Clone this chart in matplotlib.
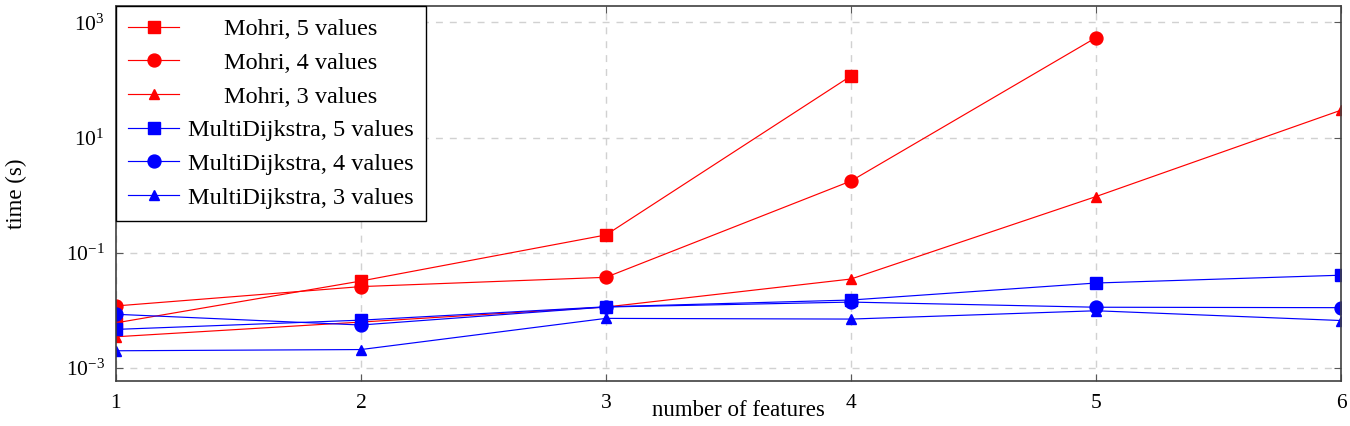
import matplotlib.pyplot as plt
from matplotlib.ticker import FixedLocator, NullLocator

plt.rcParams['font.family'] = ['Liberation Serif', 'DejaVu Serif']
plt.rcParams['mathtext.fontset'] = 'custom'
plt.rcParams['mathtext.rm'] = 'Liberation Serif'
plt.rcParams['mathtext.it'] = 'Liberation Serif:italic'

features = [1, 2, 3, 4, 5, 6]

mohri_5 = [0.0061, 0.0325, 0.205, 118]
mohri_4 = [0.012, 0.026, 0.0377, 1.77, 545]
mohri_3 = [0.0035, 0.0063, 0.0115, 0.0352, 0.95, 30]
md_5 = [0.0047, 0.0068, 0.0116, 0.0152, 0.030, 0.041]
md_4 = [0.0086, 0.0056, 0.0115, 0.014, 0.0114, 0.0112]
md_3 = [0.0020, 0.0021, 0.0073, 0.0071, 0.0099, 0.0067]

series = [
    ('Mohri, 5 values', mohri_5, 'red', 's', 9),
    ('Mohri, 4 values', mohri_4, 'red', 'o', 9.3),
    ('Mohri, 3 values', mohri_3, 'red', '^', 7.7),
    ('MultiDijkstra, 5 values', md_5, 'blue', 's', 9),
    ('MultiDijkstra, 4 values', md_4, 'blue', 'o', 9.3),
    ('MultiDijkstra, 3 values', md_3, 'blue', '^', 7.7),
]

fig = plt.figure(figsize=(13.5, 4.26), dpi=100)
ax = fig.add_axes([0.0859, 0.1056, 0.9074, 0.8803])

for label, vals, col, mk, ms in series:
    ax.plot(features[:len(vals)], vals, color=col, marker=mk, markersize=ms,
            linewidth=0.85, label=label)

ax.set_yscale('log')
ax.set_xlim(1, 6)
ax.set_ylim(10 ** -3.224, 10 ** 3.286)
ax.set_xticks(features)
ax.yaxis.set_major_locator(FixedLocator([1e-3, 1e-1, 1e1, 1e3]))
ax.yaxis.set_minor_locator(NullLocator())
ax.tick_params(direction='in', top=True, right=True, labelsize=15.5,
               length=5, color='0.35')
ax.tick_params(axis='x', pad=9)
ax.tick_params(axis='y', pad=8)
ax.grid(True, linestyle=(0, (5, 5)), color='0.82', linewidth=1)
for s in ax.spines.values():
    s.set_linewidth(1.2)
    s.set_color('0.25')

ax.set_xlabel('number of features', fontsize=16.5, va='center')
ax.xaxis.set_label_coords(0.508, -0.078)
ax.set_ylabel('time (s)', fontsize=16.5, va='center')
ax.yaxis.set_label_coords(-0.081, 0.5)

leg = ax.legend(loc='upper left', fontsize=17.5, fancybox=False,
                edgecolor='black', framealpha=1, borderaxespad=0,
                handlelength=2.1, handletextpad=0.35, labelspacing=0.48,
                borderpad=0.5)
leg.get_frame().set_linewidth(1.0)

# centre the legend labels like the original
fig.canvas.draw()
texts = leg.get_texts()
widths = [t.get_window_extent().width for t in texts]
wmax = max(widths)
for t, w in zip(texts, widths):
    t.set_position(((wmax - w) / 2, 0))

fig.savefig('out.png', dpi=100, facecolor='white')
